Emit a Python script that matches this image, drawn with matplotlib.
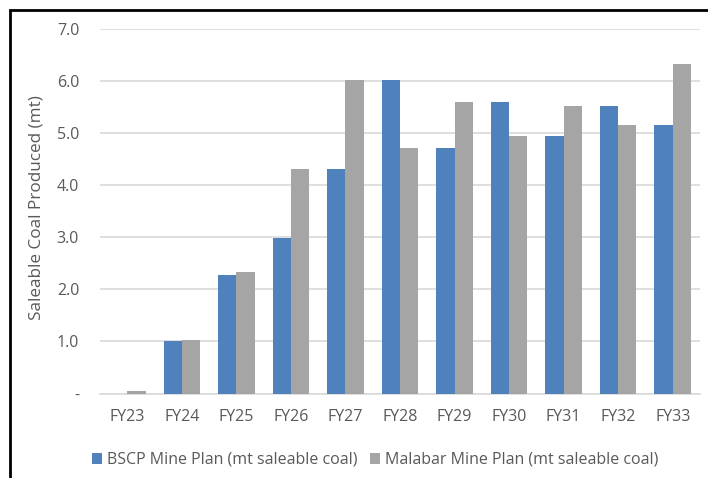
import matplotlib.pyplot as plt
import numpy as np
from matplotlib.patches import Rectangle

# Saleable coal produced per financial year (mt)
years = ["FY23", "FY24", "FY25", "FY26", "FY27", "FY28", "FY29", "FY30", "FY31", "FY32", "FY33"]
bscp = [0.0, 1.00, 2.28, 2.99, 4.31, 6.02, 4.71, 5.59, 4.95, 5.52, 5.16]
malabar = [0.05, 1.02, 2.34, 4.31, 6.02, 4.71, 5.59, 4.95, 5.52, 5.16, 6.33]

ytick_vals = [0, 1, 2, 3, 4, 5, 6, 7]
ytick_labels = ["-", "1.0", "2.0", "3.0", "4.0", "5.0", "6.0", "7.0"]

text_color = "#595959"
plt.rcParams["font.family"] = ["Open Sans", "DejaVu Sans"]

fig = plt.figure(figsize=(7.08, 4.78), dpi=100)
ax = fig.add_axes([100 / 708, 1 - 393.5 / 478, 600 / 708, (393.5 - 28.7) / 478])

x = np.arange(len(years))
w = 0.335
ax.bar(x - w / 2, bscp, width=w, color="#4F81BD", label="BSCP Mine Plan (mt saleable coal)", zorder=3)
ax.bar(x + w / 2, malabar, width=w, color="#A5A5A5", label="Malabar Mine Plan (mt saleable coal)", zorder=3)

ax.set_xlim(-0.5, len(years) - 0.5)
ax.set_ylim(0, 7)
ax.set_yticks(ytick_vals)
ax.set_yticklabels(ytick_labels)
ax.set_xticks(x)
ax.set_xticklabels(years)
ax.grid(axis="y", color="#D9D9D9", linewidth=1.2, zorder=0)
for side in ["top", "right", "left"]:
    ax.spines[side].set_visible(False)
ax.spines["bottom"].set_color("#D9D9D9")
ax.spines["bottom"].set_linewidth(1.2)
ax.tick_params(axis="both", length=0, labelsize=11.5, colors=text_color)
ax.tick_params(axis="y", pad=15)
ax.tick_params(axis="x", pad=11)

ax.set_ylabel("Saleable Coal Produced (mt)", fontsize=12.3, color=text_color)
ax.yaxis.set_label_coords(-0.093, 0.51)

fig.legend(loc="center", bbox_to_anchor=(375 / 708, 1 - 460 / 478), ncol=2, frameon=False,
           fontsize=11.5, labelcolor=text_color, handlelength=0.65, handleheight=0.65,
           handletextpad=0.3, columnspacing=0.8)

# Chart frame
fig.add_artist(Rectangle((10 / 708, -0.05), 1.0, 1 - 10 / 478 + 0.05, transform=fig.transFigure,
                         fill=False, edgecolor="black", linewidth=2, clip_on=False))

fig.savefig("out.png", dpi=100)
